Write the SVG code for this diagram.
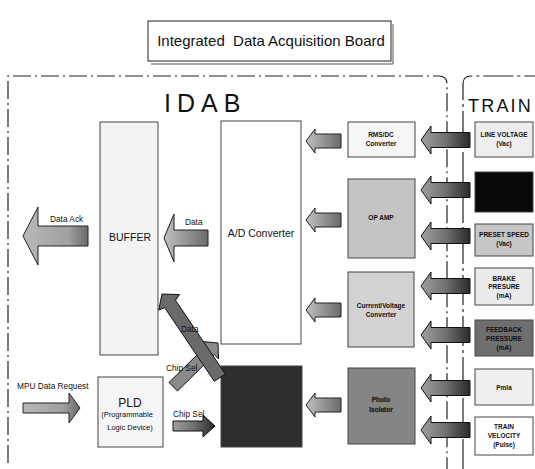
<svg xmlns="http://www.w3.org/2000/svg" width="535" height="469" viewBox="0 0 535 469">
  <style>
    text { font-family: "Liberation Sans", Arial, sans-serif; fill: #111; }
    .frame { fill: none; stroke: #222; stroke-width: 1.2; stroke-dasharray: 18 4 2 4; }
    .frame2 { fill: none; stroke: #222; stroke-width: 1.2; stroke-dasharray: 30 4 3 4; }
    .box { stroke: #444; stroke-width: 1; }
    .small { font-size: 6.5px; font-weight: bold; text-anchor: middle; }
    .lbl { font-size: 8.3px; }
    .trainArrow { fill: url(#gTrain); stroke: #111; stroke-width: 1; }
    .midArrow { fill: url(#gMid); stroke: #222; stroke-width: 1; }
    .bigArrow { fill: url(#gBig); stroke: #222; stroke-width: 1; }
    .diag { fill: #6a6a6a; stroke: #111; stroke-width: 1; }
    .diag2 { fill: #8a8a8a; stroke: #111; stroke-width: 1; }
  </style>
  <defs>
    <linearGradient id="gTrain" x1="0" y1="0" x2="1" y2="0">
      <stop offset="0" stop-color="#a0a0a0"/>
      <stop offset="0.5" stop-color="#707070"/>
      <stop offset="1" stop-color="#2a2a2a"/>
    </linearGradient>
    <linearGradient id="gMid" x1="0" y1="0" x2="1" y2="0">
      <stop offset="0" stop-color="#c0c0c0"/>
      <stop offset="1" stop-color="#6a6a6a"/>
    </linearGradient>
    <linearGradient id="gBig" x1="0" y1="0" x2="1" y2="0">
      <stop offset="0" stop-color="#b8b8b8"/>
      <stop offset="0.7" stop-color="#a0a0a0"/>
      <stop offset="1" stop-color="#6a6a6a"/>
    </linearGradient>
  </defs>

  <rect width="535" height="469" fill="#fff"/>

  <!-- title -->
  <g id="title">
    <polyline points="393,24 393,64 151,64" fill="none" stroke="#555" stroke-width="1"/>
    <rect x="148" y="21" width="243" height="40" fill="#fff" stroke="#222" stroke-width="1"/>
    <text x="271" y="46" font-size="15" text-anchor="middle" style="white-space:pre">Integrated  Data Acquisition Board</text>
  </g>

  <!-- board and train frames -->
  <g id="frames">
    <path class="frame" d="M8,463 L8,76 L439,76 Q447,76 447,84 L447,469"/>
    <path class="frame2" d="M463,469 L463,84 Q463,76 471,76 L535,76"/>
    <text x="164" y="112" font-size="25" letter-spacing="6">IDAB</text>
    <text x="468" y="112" font-size="18" letter-spacing="2.2">TRAIN</text>
  </g>

  <!-- board blocks -->
  <g id="buffer">
    <rect class="box" x="100" y="122" width="58" height="233" fill="#f3f3f3"/>
    <text x="130" y="241" font-size="10.5" text-anchor="middle">BUFFER</text>
  </g>
  <g id="adc">
    <rect class="box" x="221" y="121" width="80" height="223" fill="#fff"/>
    <text x="261" y="237" font-size="10.5" text-anchor="middle">A/D Converter</text>
  </g>
  <g id="ppi">
    <rect class="box" x="221" y="366" width="81" height="81" fill="#2e2e2e"/>
  </g>
  <g id="pld">
    <rect class="box" x="98" y="377" width="65" height="70" fill="#f5f5f5"/>
    <text x="130" y="407" font-size="12" text-anchor="middle">PLD</text>
    <text x="127" y="417" font-size="7.5" text-anchor="middle">(Programmable</text>
    <text x="130" y="430" font-size="7.5" text-anchor="middle">Logic Device)</text>
  </g>
  <g id="rmsdc">
    <rect class="box" x="348" y="122" width="67" height="35" fill="#f6f6f6"/>
    <text class="small" x="381" y="137">RMS/DC</text>
    <text class="small" x="381" y="146">Converter</text>
  </g>
  <g id="opamp">
    <rect class="box" x="348" y="179" width="67" height="79" fill="#c4c4c4"/>
    <text class="small" x="381" y="220">OP AMP</text>
  </g>
  <g id="civ">
    <rect class="box" x="348" y="272" width="66" height="75" fill="#d2d2d2"/>
    <text class="small" x="381" y="308">Current/Voltage</text>
    <text class="small" x="381" y="317">Converter</text>
  </g>
  <g id="photo">
    <rect class="box" x="348" y="368" width="67" height="76" fill="#858585"/>
    <text class="small" x="381" y="402" font-size="7.5" fill="#fff" stroke="#333" stroke-width="0.3">Photo</text>
    <text class="small" x="381" y="412" font-size="7.5" fill="#fff" stroke="#333" stroke-width="0.3">Isolator</text>
  </g>

  <!-- train side sources -->
  <g id="lineVoltage">
    <rect class="box" x="475" y="122" width="58" height="35" fill="#eeeeee"/>
    <text class="small" x="504" y="137">LINE VOLTAGE</text>
    <text class="small" x="504" y="146">(Vac)</text>
  </g>
  <g id="source2">
    <rect class="box" x="475" y="172" width="58" height="40" fill="#080808"/>
  </g>
  <g id="presetSpeed">
    <rect class="box" x="475" y="224" width="58" height="32" fill="#c6c6c6"/>
    <text class="small" x="504" y="237">PRESET SPEED</text>
    <text class="small" x="504" y="246">(Vac)</text>
  </g>
  <g id="brake">
    <rect class="box" x="475" y="268" width="58" height="37" fill="#ebebeb"/>
    <text class="small" x="504" y="281">BRAKE</text>
    <text class="small" x="504" y="289">PRESURE</text>
    <text class="small" x="504" y="298">(mA)</text>
  </g>
  <g id="feedback">
    <rect class="box" x="475" y="320" width="58" height="36" fill="#6e6e6e"/>
    <text class="small" x="504" y="332" fill="#222">FEEDBACK</text>
    <text class="small" x="504" y="341" fill="#222">PRESSURE</text>
    <text class="small" x="504" y="350" fill="#222">(mA)</text>
  </g>
  <g id="pmla">
    <rect class="box" x="475" y="369" width="58" height="36" fill="#efefef"/>
    <text class="small" x="504" y="390">Pmla</text>
  </g>
  <g id="velocity">
    <rect class="box" x="475" y="417" width="58" height="38" fill="#fff"/>
    <text class="small" x="504" y="429">TRAIN</text>
    <text class="small" x="504" y="438">VELOCITY</text>
    <text class="small" x="504" y="447">(Pulse)</text>
  </g>

  <!-- connectors -->
  <g id="connectors">
    <!-- train signals into the board -->
    <path class="trainArrow" d="M421,140 L431,126 L431,132.5 L470,132.5 L470,147.5 L431,147.5 L431,154 Z"/>
    <path class="trainArrow" d="M421,190 L431,176 L431,182.5 L470,182.5 L470,197.5 L431,197.5 L431,204 Z"/>
    <path class="trainArrow" d="M421,236 L431,222 L431,228.5 L470,228.5 L470,243.5 L431,243.5 L431,250 Z"/>
    <path class="trainArrow" d="M421,286 L431,272 L431,278.5 L470,278.5 L470,293.5 L431,293.5 L431,300 Z"/>
    <path class="trainArrow" d="M421,335 L431,321 L431,327.5 L470,327.5 L470,342.5 L431,342.5 L431,349 Z"/>
    <path class="trainArrow" d="M421,388 L431,374 L431,380.5 L470,380.5 L470,395.5 L431,395.5 L431,402 Z"/>
    <path class="trainArrow" d="M421,430 L431,416 L431,422.5 L470,422.5 L470,437.5 L431,437.5 L431,444 Z"/>
    <!-- conditioning stages into converter / isolator output -->
    <path class="midArrow" d="M306,141 L315,129 L315,134 L341,134 L341,148 L315,148 L315,153 Z"/>
    <path class="midArrow" d="M306,220 L315,208 L315,213 L341,213 L341,227 L315,227 L315,232 Z"/>
    <path class="midArrow" d="M306,310 L315,298 L315,303 L341,303 L341,317 L315,317 L315,322 Z"/>
    <path class="midArrow" d="M306,405 L315,393 L315,398 L341,398 L341,412 L315,412 L315,417 Z"/>
    <!-- data path -->
    <path class="midArrow" d="M164,238 L174,214 L174,230 L208,230 L208,246 L174,246 L174,262 Z"/>
    <path class="bigArrow" d="M23,236 L38,207 L38,226 L88,226 L88,246 L38,246 L38,265 Z"/>
    <!-- control path -->
    <path class="bigArrow" d="M80,408 L69,393 L69,403 L23,403 L23,413 L69,413 L69,423 Z"/>
    <path class="trainArrow" d="M215,426 L203,415 L203,421 L173,421 L173,431 L203,431 L203,437 Z"/>
    <!-- crossing diagonals: chip select up-right, data up-left -->
    <path class="diag2" d="M218,343 L218.5,359 L214.5,354.5 L177.5,391 L169,382.5 L206,346 L201.5,341.5 Z"/>
    <path class="diag" d="M162,294 L179.5,294.6 L175.5,300.3 L225.3,374 L214.3,381.3 L164.7,307.7 L158.7,310 Z"/>
    <text class="lbl" x="50" y="222">Data Ack</text>
    <text class="lbl" x="185" y="225">Data</text>
    <text class="lbl" x="17" y="389">MPU Data Request</text>
    <text class="lbl" x="173" y="417">Chip Sel</text>
    <text class="lbl" x="181" y="332">Data</text>
    <text class="lbl" x="166" y="371">Chip Sel</text>
  </g>
</svg>
